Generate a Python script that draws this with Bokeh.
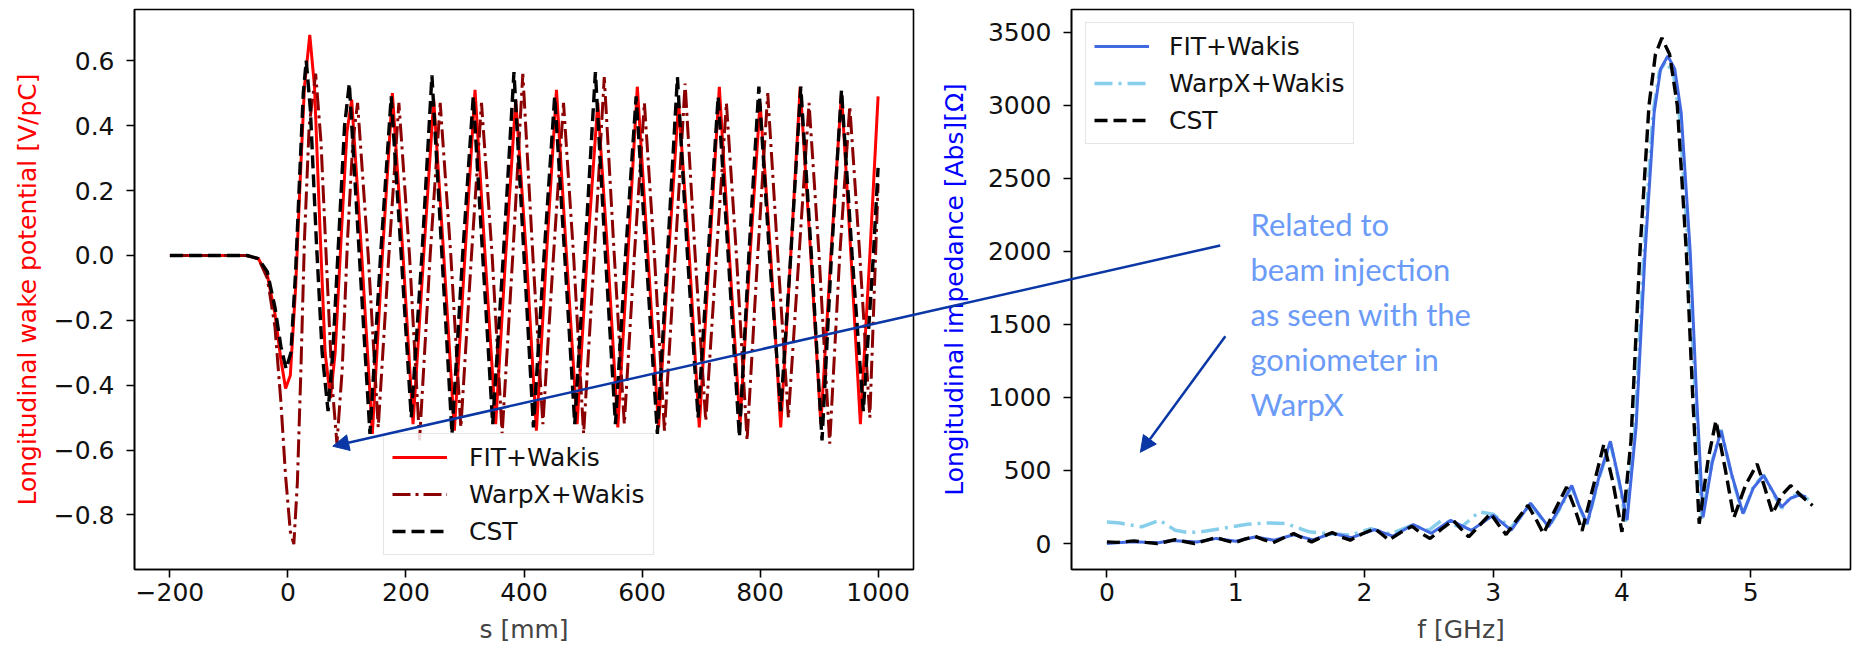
from bokeh.plotting import figure
from bokeh.layouts import row, column
from bokeh.models import Range1d, FixedTicker, Arrow, NormalHead, Legend, LegendItem
from bokeh.core.properties import value
from bokeh.embed import file_html
from bokeh.resources import INLINE

# ---------------- data ----------------
series_names = ["FIT+Wakis", "WarpX+Wakis", "CST"]

# longitudinal wake potential [V/pC] vs s [mm]
fit_wake = [(-200, 0), (-120, 0), (-70, 0), (-50, -0.01), (-35, -0.06), (-22, -0.18), (-12, -0.32),
            (-4, -0.41), (4, -0.37), (13, -0.1), (20, 0.2), (28, 0.52), (37, 0.68), (45, 0.52),
            (55, 0.05), (63, -0.3), (72, -0.44), (80, -0.3), (90, 0.05), (100, 0.38), (108, 0.48),
            (125, 0), (143, -0.55), (160, 0), (177, 0.50), (195, 0), (212, -0.52), (230, 0),
            (247, 0.48), (264, 0), (282, -0.54), (300, 0), (317, 0.51), (334, 0), (352, -0.52),
            (369, 0), (386, 0.48), (404, 0), (421, -0.54), (438, 0), (455, 0.51), (472, 0),
            (490, -0.52), (507, 0), (525, 0.47), (542, 0), (559, -0.53), (576, 0), (592, 0.52),
            (610, 0), (628, -0.53), (645, 0), (662, 0.47), (680, 0), (697, -0.53), (714, 0),
            (731, 0.52), (748, 0), (766, -0.52), (783, 0), (800, 0.47), (818, 0), (835, -0.53),
            (852, 0), (868, 0.52), (886, 0), (903, -0.52), (920, 0), (938, 0.50), (954, 0),
            (970, -0.52), (986, 0), (1000, 0.49)]

warpx_wake = [(-200, 0), (-120, 0), (-70, 0), (-50, -0.01), (-35, -0.07), (-22, -0.22), (-12, -0.45),
              (-4, -0.68), (4, -0.85), (10, -0.89), (16, -0.7), (22, -0.35), (28, 0.05), (36, 0.4),
              (47, 0.56), (56, 0.35), (66, -0.05), (75, -0.4), (83, -0.58), (92, -0.35), (101, 0.05),
              (110, 0.35), (118, 0.47), (136, 0), (153, -0.53), (171, 0), (188, 0.47), (206, 0),
              (223, -0.57), (241, 0), (258, 0.47), (276, 0), (293, -0.53), (311, 0), (328, 0.47),
              (346, 0), (363, -0.55), (381, 0), (398, 0.56), (415, 0), (432, -0.52), (450, 0),
              (467, 0.47), (484, 0), (501, -0.55), (519, 0), (536, 0.55), (553, 0), (570, -0.52),
              (587, 0), (604, 0.47), (621, 0), (638, -0.54), (656, 0), (673, 0.53), (690, 0),
              (708, -0.51), (726, 0), (743, 0.47), (760, 0), (778, -0.57), (796, 0), (813, 0.50),
              (830, 0), (848, -0.50), (866, 0), (883, 0.47), (900, 0), (918, -0.58), (935, 0),
              (952, 0.46), (969, 0), (986, -0.50), (1000, 0.22)]

cst_wake = [(-200, 0), (-120, 0), (-70, 0), (-50, -0.01), (-35, -0.05), (-22, -0.16), (-12, -0.28),
            (-3, -0.35), (5, -0.3), (13, -0.05), (20, 0.25), (26, 0.5), (31, 0.60), (38, 0.45),
            (48, 0.05), (58, -0.3), (68, -0.48), (76, -0.3), (86, 0.05), (96, 0.4), (104, 0.53),
            (121, 0), (139, -0.55), (157, 0), (175, 0.49), (192, 0), (209, -0.50), (227, 0),
            (244, 0.555), (261, 0), (278, -0.55), (296, 0), (314, 0.49), (330, 0), (347, -0.52),
            (365, 0), (383, 0.565), (400, 0), (416, -0.53), (434, 0), (452, 0.49), (469, 0),
            (486, -0.52), (503, 0), (521, 0.565), (538, 0), (555, -0.52), (572, 0), (590, 0.49),
            (607, 0), (626, -0.55), (643, 0), (660, 0.55), (677, 0), (695, -0.50), (712, 0),
            (729, 0.49), (746, 0), (765, -0.56), (781, 0), (798, 0.52), (816, 0), (835, -0.48),
            (852, 0), (869, 0.52), (887, 0), (905, -0.57), (921, 0), (938, 0.51), (956, 0),
            (975, -0.48), (992, 0), (1000, 0.27)]

# longitudinal impedance [Ohm] vs f [GHz]
fit_imp = [(0, 0), (0.08, 5), (0.2, 12), (0.3, 8), (0.4, 5), (0.5, 20), (0.6, 15), (0.7, 10),
           (0.85, 35), (1.0, 15), (1.15, 45), (1.3, 22), (1.45, 60), (1.6, 25), (1.75, 70),
           (1.9, 40), (2.08, 95), (2.22, 50), (2.38, 130), (2.52, 70), (2.67, 159), (2.83, 90),
           (3.0, 193), (3.14, 91), (3.29, 277), (3.43, 114), (3.52, 250), (3.61, 398), (3.67, 250),
           (3.73, 136), (3.82, 450), (3.91, 700), (3.98, 420), (4.04, 160), (4.11, 800),
           (4.18, 2000), (4.25, 2950), (4.30, 3250), (4.356, 3338), (4.41, 3250), (4.46, 2950),
           (4.53, 2000), (4.58, 1000), (4.63, 180), (4.70, 550), (4.77, 773), (4.85, 480),
           (4.94, 205), (5.02, 380), (5.10, 466), (5.17, 360), (5.24, 250), (5.31, 310),
           (5.37, 330), (5.43, 320)]

warpx_imp = [(0, 148), (0.1, 140), (0.27, 114), (0.41, 159), (0.53, 91), (0.63, 75), (0.73, 80),
             (0.89, 102), (1.09, 132), (1.25, 141), (1.39, 136), (1.57, 80), (1.73, 68), (1.89, 57),
             (2.05, 102), (2.2, 65), (2.37, 125), (2.5, 90), (2.6, 159), (2.75, 110), (2.89, 216),
             (3.0, 200), (3.14, 110), (3.29, 270), (3.43, 110), (3.52, 240), (3.61, 390),
             (3.67, 245), (3.73, 130), (3.82, 440), (3.91, 690), (3.98, 410), (4.03, 150),
             (4.10, 780), (4.17, 1980), (4.24, 2940), (4.29, 3230), (4.34, 3300), (4.40, 3220),
             (4.45, 2900), (4.52, 1960), (4.57, 980), (4.62, 170), (4.70, 560), (4.77, 780),
             (4.85, 470), (4.94, 200), (5.02, 390), (5.10, 470), (5.17, 350), (5.24, 240),
             (5.31, 320), (5.38, 340), (5.45, 300)]

cst_imp = [(0, 11), (0.08, 8), (0.21, 18), (0.3, 8), (0.39, 0), (0.46, 12), (0.53, 27), (0.61, 12),
           (0.68, 0), (0.77, 22), (0.85, 41), (0.92, 22), (0.99, 5), (1.07, 30), (1.15, 50),
           (1.22, 25), (1.29, 5), (1.37, 38), (1.45, 68), (1.52, 38), (1.59, 11), (1.67, 45),
           (1.75, 75), (1.82, 45), (1.89, 23), (1.98, 65), (2.08, 102), (2.14, 60), (2.19, 23),
           (2.28, 75), (2.37, 118), (2.44, 70), (2.51, 34), (2.6, 100), (2.69, 159), (2.75, 100),
           (2.81, 45), (2.9, 130), (2.98, 205), (3.04, 130), (3.10, 61), (3.19, 170), (3.27, 261),
           (3.33, 170), (3.39, 68), (3.48, 230), (3.57, 386), (3.63, 250), (3.69, 86), (3.78, 400),
           (3.86, 682), (3.93, 420), (4.0, 80), (4.07, 700), (4.14, 2000), (4.21, 3000),
           (4.26, 3350), (4.31, 3462), (4.37, 3350), (4.43, 3000), (4.50, 2000), (4.55, 1000),
           (4.60, 136), (4.67, 580), (4.73, 841), (4.80, 520), (4.87, 178), (4.96, 400),
           (5.05, 545), (5.11, 380), (5.17, 205), (5.24, 330), (5.31, 397), (5.40, 320), (5.48, 260)]

wake_xticks = [-200, 0, 200, 400, 600, 800, 1000]
wake_xlabels = ["\u2212200", "0", "200", "400", "600", "800", "1000"]
wake_yticks = [-0.8, -0.6, -0.4, -0.2, 0.0, 0.2, 0.4, 0.6]
wake_ylabels = ["\u22120.8", "\u22120.6", "\u22120.4", "\u22120.2", "0.0", "0.2", "0.4", "0.6"]
imp_xticks = [0, 1, 2, 3, 4, 5]
imp_yticks = [0, 500, 1000, 1500, 2000, 2500, 3000, 3500]

note_lines = ["Related to", "beam injection", "as seen with the", "goniometer in", "WarpX"]

# ---------------- layout geometry ----------------
H = 647
WT = 1854
W1 = 933
W2 = WT - W1
L1, R1 = 134, 20
L2, R2 = 138, 4
T, B = 9, 78
FW = W1 - L1 - R1
FH = H - T - B
X1 = L1            # absolute frame left, left plot
X2 = W1 + L2       # absolute frame left, right plot

wake_xr = (-260, 1060)
wake_yr = (-0.968, 0.758)
imp_xr = (-0.275, 5.775)
imp_yr = (-178, 3657)

FONT = "DejaVu Sans"
FS = "25px"


def make_fig(width, left, right, xr, yr):
    p = figure(width=width, height=H, x_range=Range1d(*xr), y_range=Range1d(*yr),
               output_backend="svg", toolbar_location=None,
               min_border_left=left, min_border_right=right,
               min_border_top=T, min_border_bottom=B)
    p.grid.visible = False
    p.background_fill_color = "white"
    p.border_fill_color = "white"
    p.outline_line_color = "black"
    p.outline_line_width = 1.6
    p.outline_line_alpha = 1.0
    for ax in (p.xaxis[0], p.yaxis[0]):
        ax.major_label_text_font = FONT
        ax.major_label_text_font_size = FS
        ax.major_label_text_color = "#111111"
        ax.axis_label_text_font = FONT
        ax.axis_label_text_font_size = FS
        ax.axis_label_text_font_style = "normal"
        ax.major_tick_in = 0
        ax.major_tick_out = 8
        ax.minor_tick_in = 0
        ax.minor_tick_out = 0
        ax.axis_line_width = 1.6
        ax.major_tick_line_width = 1.6
        ax.major_label_standoff = 5
    return p


def add_legend(p, items, loc, stand):
    lg = Legend(items=[LegendItem(label=n, renderers=[r]) for n, r in items], location=loc)
    lg.label_text_font = FONT
    lg.label_text_font_size = FS
    lg.label_text_color = "#111111"
    lg.glyph_width = 55
    lg.glyph_height = 24
    lg.label_height = 30
    lg.label_standoff = stand
    lg.padding = 8
    lg.spacing = 7
    lg.margin = 0
    lg.border_line_color = "#cccccc"
    lg.border_line_width = 1.5
    lg.background_fill_alpha = 0.85
    p.add_layout(lg)


# ---------------- left: wake potential ----------------
p1 = make_fig(W1, L1, R1, wake_xr, wake_yr)
p1.xaxis[0].ticker = FixedTicker(ticks=wake_xticks)
p1.xaxis[0].major_label_overrides = dict(zip(wake_xticks, wake_xlabels))
p1.yaxis[0].ticker = FixedTicker(ticks=wake_yticks)
p1.yaxis[0].major_label_overrides = dict(zip(wake_yticks, wake_ylabels))
p1.xaxis[0].axis_label = "s [mm]"
p1.yaxis[0].axis_label = "Longitudinal wake potential [V/pC]"
p1.yaxis[0].axis_label_text_color = "red"
p1.yaxis[0].major_label_standoff = 12
p1.yaxis[0].axis_label_standoff = 9
p1.xaxis[0].axis_label_standoff = 11

r_fit_w = p1.line([a for a, b in fit_wake], [b for a, b in fit_wake], line_color="red", line_width=3)
r_wx_w = p1.line([a for a, b in warpx_wake], [b for a, b in warpx_wake], line_color="#8b0000",
                 line_width=3, line_dash="18 5 3 5")
r_cst_w = p1.line([a for a, b in cst_wake], [b for a, b in cst_wake], line_color="black",
                  line_width=3.4, line_dash="13 6")
add_legend(p1, list(zip(series_names, [r_fit_w, r_wx_w, r_cst_w])), (249, 14), 22)

# ---------------- right: impedance ----------------
p2 = make_fig(W2, L2, R2, imp_xr, imp_yr)
p2.xaxis[0].ticker = FixedTicker(ticks=imp_xticks)
p2.yaxis[0].ticker = FixedTicker(ticks=imp_yticks)
p2.xaxis[0].axis_label = "f [GHz]"
p2.yaxis[0].axis_label = "Longitudinal impedance [Abs][\u03a9]"
p2.yaxis[0].axis_label_text_color = "blue"
p2.yaxis[0].major_label_standoff = 12
p2.yaxis[0].axis_label_standoff = 16
p2.xaxis[0].axis_label_standoff = 11

r_wx_i = p2.line([a for a, b in warpx_imp], [b for a, b in warpx_imp], line_color="skyblue",
                 line_width=3.5, line_dash="18 6 3 6")
r_fit_i = p2.line([a for a, b in fit_imp], [b for a, b in fit_imp], line_color="royalblue",
                  line_width=3)
r_cst_i = p2.line([a for a, b in cst_imp], [b for a, b in cst_imp], line_color="black",
                  line_width=3.4, line_dash="13 6")
add_legend(p2, list(zip(series_names, [r_fit_i, r_wx_i, r_cst_i])), (14, 425), 20)

# annotation text
note_x = 1.115
line_px = [223 + 45 * i for i in range(len(note_lines))]


def to_px(xr, yr, x0, x, y):
    px = x0 + (x - xr[0]) / (xr[1] - xr[0]) * FW
    py = T + (yr[1] - y) / (yr[1] - yr[0]) * FH
    return px, py


def from_px(xr, yr, x0, px, py):
    x = xr[0] + (px - x0) / FW * (xr[1] - xr[0])
    y = yr[1] - (py - T) / FH * (yr[1] - yr[0])
    return x, y


note_y = [from_px(imp_xr, imp_yr, X2, 0, py)[1] for py in line_px]
p2.text(x=[note_x] * len(note_lines), y=note_y, text=note_lines,
        text_font=value("Lato"), text_font_size="31px", text_color="#6b9bf7",
        text_baseline="middle", text_align="left")

# ---------------- arrows (overlay spanning both panels) ----------------
ARROW = "#0a37a5"
tip1 = (76, -0.588)        # in wake-plot data
tail1 = (0.88, 2041)       # in impedance-plot data
tip2 = (0.26, 625)
tail2 = (0.92, 1420)

a1x, a1y = to_px(wake_xr, wake_yr, X1, *tip1)
b1x, b1y = to_px(imp_xr, imp_yr, X2, *tail1)
a2x, a2y = to_px(imp_xr, imp_yr, X2, *tip2)
b2x, b2y = to_px(imp_xr, imp_yr, X2, *tail2)

overlay = None
try:
    overlay = figure(width=WT, height=H, x_range=Range1d(0, WT), y_range=Range1d(H, 0),
                     output_backend="svg", toolbar_location=None,
                     x_axis_type=None, y_axis_type=None, min_border=0,
                     margin=(-H, 0, 0, 0))
    overlay.grid.visible = False
    overlay.background_fill_alpha = 0.0
    overlay.border_fill_alpha = 0.0
    overlay.outline_line_color = None
    for (sx, sy, ex, ey) in ((b1x, b1y, a1x, a1y), (b2x, b2y, a2x, a2y)):
        overlay.add_layout(Arrow(end=NormalHead(size=16, fill_color=ARROW, line_color=ARROW),
                                 x_start=sx, y_start=sy, x_end=ex, y_end=ey,
                                 line_color=ARROW, line_width=2.5))
except Exception:
    overlay = None

if overlay is None:
    p1.add_layout(Arrow(end=NormalHead(size=16, fill_color=ARROW, line_color=ARROW),
                        x_start=from_px(wake_xr, wake_yr, X1, b1x, b1y)[0],
                        y_start=from_px(wake_xr, wake_yr, X1, b1x, b1y)[1],
                        x_end=tip1[0], y_end=tip1[1], line_color=ARROW, line_width=2.5))
    p2.add_layout(Arrow(end=NormalHead(size=16, fill_color=ARROW, line_color=ARROW),
                        x_start=tail2[0], y_start=tail2[1], x_end=tip2[0], y_end=tip2[1],
                        line_color=ARROW, line_width=2.5))
    layout = row(p1, p2)
else:
    layout = column(row(p1, p2), overlay)

open("out.html", "w").write(file_html(layout, INLINE))
